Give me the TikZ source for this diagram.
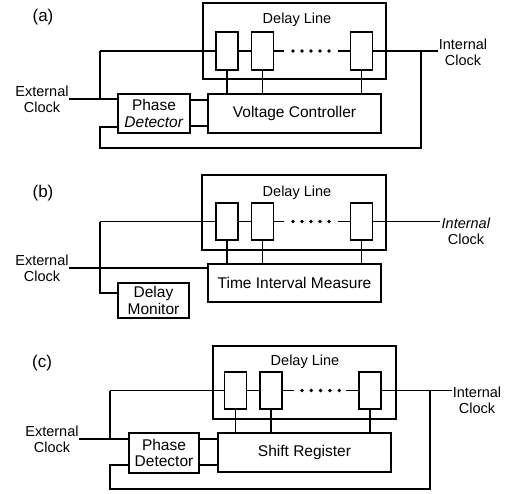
\documentclass[tikz,border=0pt]{standalone}
\usepackage{fontspec}
\setmainfont{Liberation Sans}
\usetikzlibrary{calc,positioning}

\begin{document}
\begin{tikzpicture}[
    x=1pt, y=-1pt,
    line width=1.6pt,
    lbl/.style={font=\fontsize{14.5}{16}\selectfont, align=center, inner sep=0pt},
    tag/.style={font=\fontsize{17}{18}\selectfont, inner sep=0pt},
    blk/.style={draw, inner sep=0pt, font=\fontsize{15.5}{16.5}\selectfont, align=center},
    dlbox/.style={draw, inner sep=0pt},
    cell/.style={draw, inner sep=0pt, minimum width=22pt, minimum height=38pt}
  ]
  \useasboundingbox (0,0) rectangle (505,493);

  % (a) voltage controlled delay line
  \node[tag] (taga) at (43,17) {(a)};
  \node[dlbox, minimum width=183pt, minimum height=76pt] (dla) at (294.5,41) {};
  \node[lbl] (dlta) at (297,20) {Delay Line};
  \node[cell] (a1) at (227,51) {};
  \node[cell] (a2) at (262.5,51) {};
  \node[cell] (a3) at (361.5,51) {};
  \node[blk, minimum width=72pt, minimum height=39pt] (pda) at (154,113.5) {Phase\\\textit{Detector}};
  \node[blk, minimum width=173pt, minimum height=39pt] (vca) at (294.5,113.5) {Voltage Controller};
  \node[lbl] (exta) at (42,99) {External\\Clock};
  \node[lbl] (inta) at (463,52) {Internal\\Clock};
  \coordinate (ina) at (100,51);
  \coordinate (tapa) at (421,51);
  \coordinate (fba) at (100,148);

  \draw (ina) -- (a1.west) (a1.east) -- (a2.west) (a2.east) -- ++(10,0) (a3.west) -- ++(-12,0);
  \foreach \k in {0,...,4} \fill (293+9*\k,51) circle[radius=1.9pt];
  \draw (a3.east) -- (a3.east -| inta.west);
  \draw (exta.east) -- (exta.east -| pda.west);
  \draw (ina) -- (ina |- exta.east);
  \draw (tapa) |- (fba) |- ($(pda.west)+(0,13.5)$);
  \draw ($(pda.east)+(0,-13.5)$) -- ($(vca.west)+(0,-13.5)$);
  \draw ($(pda.east)+(0,12.5)$) -- ($(vca.west)+(0,12.5)$);
  \foreach \c in {a1,a2,a3} \draw (\c.south) -- (\c.south |- vca.north);

  % (b) time interval measure
  \node[tag] (tagb) at (43,193) {(b)};
  \node[dlbox, minimum width=184pt, minimum height=75pt] (dlb) at (294,212.5) {};
  \node[lbl] (dltb) at (297,193) {Delay Line};
  \node[cell, minimum height=37pt] (b1) at (227,221.5) {};
  \node[cell, minimum height=37pt] (b2) at (262.5,221.5) {};
  \node[cell, minimum height=37pt] (b3) at (361.5,221.5) {};
  \node[blk, minimum width=71pt, minimum height=35pt] (dmb) at (153.5,300.5) {Delay\\Monitor};
  \node[blk, minimum width=173pt, minimum height=38pt] (timb) at (294.5,283) {Time Interval Measure};
  \node[lbl] (extb) at (42,268) {External\\Clock};
  \node[lbl] (intb) at (466,231) {\textit{Internal}\\Clock};
  \coordinate (inb) at (100,221.5);
  \coordinate (outb) at (440,221.5);

  \draw (inb) -- (b1.west) (b1.east) -- (b2.west) (b2.east) -- ++(10,0) (b3.west) -- ++(-12,0);
  \foreach \k in {0,...,4} \fill (293+9*\k,221.5) circle[radius=1.9pt];
  \draw (b3.east) -- (outb);
  \draw (inb) |- ($(dmb.west)+(0,-7.5)$);
  \draw (extb.east) -- (extb.east -| timb.west);
  \draw ($(dmb.east)+(0,-5.5)$) -- ($(dmb.east)+(0,-5.5)$ -| timb.west);
  \foreach \c in {b1,b2,b3} \draw (\c.south) -- (\c.south |- timb.north);

  % (c) shift register
  \node[tag] (tagc) at (42,363) {(c)};
  \node[dlbox, minimum width=183pt, minimum height=73pt] (dlc) at (304.5,382.5) {};
  \node[lbl] (dltc) at (305,362) {Delay Line};
  \node[cell, minimum height=37pt] (c1) at (235.5,390.5) {};
  \node[cell, minimum height=37pt] (c2) at (271,390.5) {};
  \node[cell, minimum height=37pt] (c3) at (370,390.5) {};
  \node[blk, minimum width=70pt, minimum height=40pt] (pdc) at (164,453) {Phase\\Detector};
  \node[blk, minimum width=173pt, minimum height=39pt] (src) at (304.5,452.5) {Shift Register};
  \node[lbl] (extc) at (52,439) {External\\Clock};
  \node[lbl] (intc) at (477,400) {Internal\\Clock};
  \coordinate (inc) at (110,390.5);
  \coordinate (outc) at (452,390.5);
  \coordinate (tapc) at (430,390.5);
  \coordinate (fbc) at (110,489);

  \draw (inc) -- (c1.west) (c1.east) -- (c2.west) (c2.east) -- ++(11,0) (c3.west) -- ++(-12,0);
  \foreach \k in {0,...,4} \fill (302+9.3*\k,390.5) circle[radius=1.9pt];
  \draw (c3.east) -- (outc);
  \draw (extc.east) -- (extc.east -| pdc.west);
  \draw (inc) -- (inc |- extc.east);
  \draw (tapc) |- (fbc) |- ($(pdc.west)+(0,12)$);
  \draw ($(pdc.east)+(0,-14)$) -- ($(src.west)+(0,-13.5)$);
  \draw ($(pdc.east)+(0,12)$) -- ($(src.west)+(0,12.5)$);
  \foreach \c in {c1,c2,c3} \draw (\c.south) -- (\c.south |- src.north);
\end{tikzpicture}
\end{document}
